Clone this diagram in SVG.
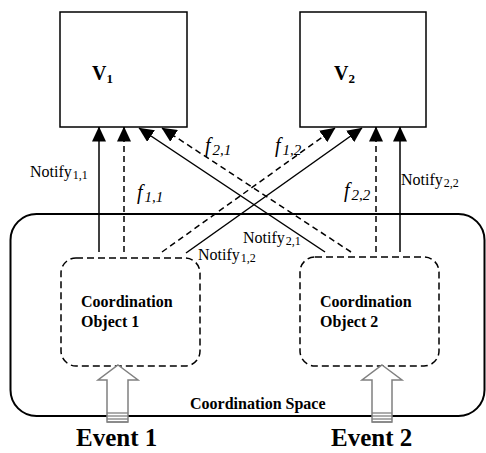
<svg xmlns="http://www.w3.org/2000/svg" width="486" height="453" viewBox="0 0 486 453">
<style>
text{font-family:"Liberation Serif","Times New Roman",serif;fill:#000}
.box{fill:#fff;stroke:#000;stroke-width:1.5}
.space{fill:none;stroke:#000;stroke-width:2}
.obj{fill:#fff;stroke:#000;stroke-width:1.5;stroke-dasharray:7,4}
.sol{stroke:#000;stroke-width:1.5;fill:none;marker-end:url(#ah)}
.dash{stroke:#000;stroke-width:1.5;fill:none;stroke-dasharray:6,4;marker-end:url(#ah)}
.vl{font-size:20px;font-weight:bold}
.ob{font-size:16px;font-weight:bold}
.nt{font-size:16px}
.fl{font-size:20px;font-style:italic}
.ev{font-size:25px;font-weight:bold}
.earrow{fill:#fff;stroke:#808080;stroke-width:1.5}
.stripe{stroke:#808080;stroke-width:1.3}
</style>
<defs>
<marker id="ah" viewBox="0 0 15 14" markerWidth="15" markerHeight="14" refX="14.5" refY="7" orient="auto" markerUnits="userSpaceOnUse">
<path d="M0,0 L15,7 L0,14 z" fill="#000" stroke="none"/>
</marker>
</defs>

<g id="coordination-space">
<rect class="space" x="10.5" y="214" width="474" height="202" rx="26" ry="26"/>
<text class="ob" x="190" y="409">Coordination Space</text>
</g>

<g id="V1">
<rect class="box" x="60" y="12" width="127" height="115"/>
<text class="vl" x="92" y="80">V<tspan font-size="13" dy="3">1</tspan></text>
</g>

<g id="V2">
<rect class="box" x="300" y="12" width="126" height="115"/>
<text class="vl" x="334" y="80">V<tspan font-size="13" dy="3">2</tspan></text>
</g>

<g id="coordination-object-1">
<rect class="obj" x="61" y="258" width="139" height="108" rx="15" ry="15"/>
<text class="ob" x="81" y="307">Coordination</text>
<text class="ob" x="81" y="327">Object 1</text>
</g>

<g id="coordination-object-2">
<rect class="obj" x="300" y="257" width="139" height="109" rx="15" ry="15"/>
<text class="ob" x="320" y="307">Coordination</text>
<text class="ob" x="320" y="327">Object 2</text>
</g>

<g id="connectors">
<line class="sol" x1="99" y1="252" x2="99" y2="127"/>
<line class="dash" x1="124" y1="252" x2="124" y2="127"/>
<line class="sol" x1="325" y1="252" x2="139" y2="128"/>
<line class="dash" x1="351" y1="252" x2="162" y2="128"/>
<line class="dash" x1="162" y1="252" x2="335" y2="128"/>
<line class="sol" x1="186" y1="253" x2="362" y2="128"/>
<line class="dash" x1="376" y1="252" x2="376" y2="127"/>
<line class="sol" x1="400" y1="252" x2="400" y2="127"/>
</g>

<g id="connector-labels">
<text class="nt" x="30" y="177">Notify<tspan font-size="12" dy="2" dx="1">1,1</tspan></text>
<text class="fl" x="137" y="199">f<tspan font-size="15" dy="3" dx="2">1,1</tspan></text>
<text class="fl" x="205" y="152">f<tspan font-size="15" dy="3" dx="2">2,1</tspan></text>
<text class="fl" x="275" y="152">f<tspan font-size="15" dy="3" dx="2">1,2</tspan></text>
<text class="fl" x="344" y="197">f<tspan font-size="15" dy="3" dx="2">2,2</tspan></text>
<text class="nt" x="401" y="185">Notify<tspan font-size="12" dy="2" dx="1">2,2</tspan></text>
<text class="nt" x="243" y="243">Notify<tspan font-size="12" dy="2" dx="1">2,1</tspan></text>
<text class="nt" x="198" y="260">Notify<tspan font-size="12" dy="2" dx="1">1,2</tspan></text>
</g>

<g id="event-1">
<polygon class="earrow" points="118,365 138,380 128,380 128,422 107,422 107,380 98,380"/>
<line class="stripe" x1="107" y1="413" x2="128" y2="413"/>
<line class="stripe" x1="107" y1="416" x2="128" y2="416"/>
<line class="stripe" x1="107" y1="419" x2="128" y2="419"/>
<line class="stripe" x1="107" y1="422" x2="128" y2="422"/>
<text class="ev" x="76" y="446">Event 1</text>
</g>

<g id="event-2">
<polygon class="earrow" points="382,365 402,380 392,380 392,422 372,422 372,380 362,380"/>
<line class="stripe" x1="372" y1="413" x2="392" y2="413"/>
<line class="stripe" x1="372" y1="416" x2="392" y2="416"/>
<line class="stripe" x1="372" y1="419" x2="392" y2="419"/>
<line class="stripe" x1="372" y1="422" x2="392" y2="422"/>
<text class="ev" x="331" y="446">Event 2</text>
</g>
</svg>
